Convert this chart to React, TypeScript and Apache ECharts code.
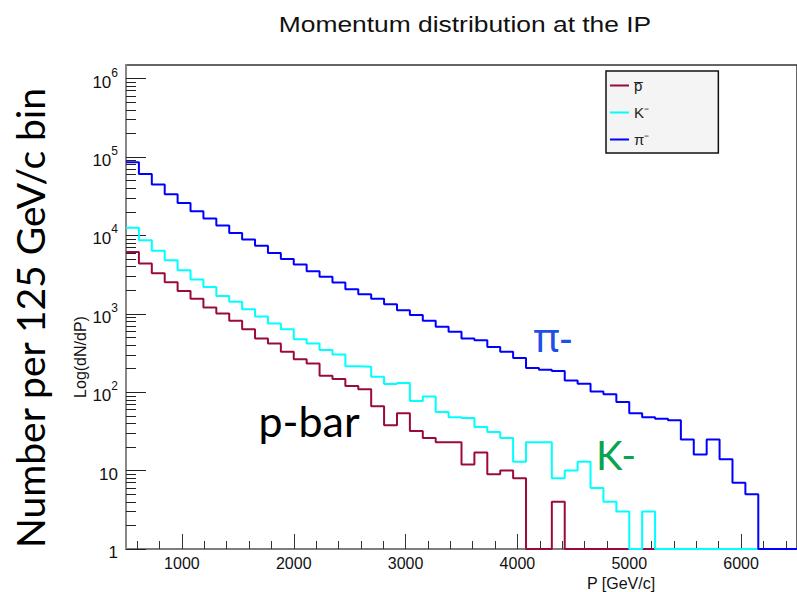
import React, { useEffect, useRef } from "react";
import * as echarts from "echarts";

// ---- data (counts per bin, 52 bins from 500 to 6500 GeV/c) ----
const X_MIN = 500;
const X_MAX = 6500;
const BIN_COUNT = 52;
const Y_MIN = 1;
const Y_MAX = 1.49e6;

const pbarCounts = [
  6160, 4370, 3300, 2530, 1960, 1550, 1205, 1010, 813, 637, 485, 419, 327, 264, 233, 162,
  147, 120, 109, 66, 38, 54, 32, 26, 23, 23, 12, 17, 9, 10, 8, 0, 0, 4, 0, 0, 0, 0, 0, 0,
  0, 0, 0, 0, 0, 0, 0, 0, 0, 0, 0, 0,
];
const kMinusCounts = [
  12470, 8690, 6350, 4830, 3600, 2740, 2190, 1680, 1420, 1146, 925, 754, 637, 475, 419, 344,
  303, 215, 211, 157, 127, 131, 77, 88, 56, 48, 47, 36, 31, 26, 13, 23, 23, 8, 10, 13, 6, 4,
  3, 0, 3, 0, 0, 0, 0, 0, 0, 0, 0, 0, 0, 0,
];
const piMinusCounts = [
  85700, 60800, 44600, 33500, 25900, 20300, 16400, 13400, 10700, 8870, 7350, 5980, 5010, 4250,
  3500, 2960, 2510, 2060, 1770, 1550, 1327, 1113, 962, 813, 682, 589, 485, 461, 376, 327, 272,
  203, 193, 186, 141, 128, 102, 94, 75, 54, 48, 46, 44, 25, 16, 25, 14, 7, 5, 0, 0, 0,
];

const seriesNames = ["p\u0305", "K\u207B", "\u03C0\u207B"];
const seriesColors = ["#9b0a3c", "#00ffff", "#0000ff"];

const xMajorTicks = [1000, 2000, 3000, 4000, 5000, 6000];
const xMinorTicks = [
  600, 800, 1200, 1400, 1600, 1800, 2200, 2400, 2600, 2800, 3200, 3400, 3600, 3800, 4200, 4400,
  4600, 4800, 5200, 5400, 5600, 5800, 6200, 6400,
];
const yDecades = [1, 10, 100, 1000, 10000, 100000, 1000000];
const yMinorMultipliers = [2, 3, 4, 5, 6, 7, 8, 9];

function histData(counts: number[]) {
  const w = (X_MAX - X_MIN) / BIN_COUNT;
  const pts: [number, number][] = counts.map((v, k) => [X_MIN + k * w, Math.max(v, Y_MIN)]);
  pts.push([X_MAX, Math.max(counts[counts.length - 1], Y_MIN)]);
  return pts;
}

export default function App() {
  const ref = useRef<HTMLDivElement>(null);

  useEffect(() => {
    if (!ref.current) return;
    const chart = echarts.init(ref.current, null, { renderer: "svg" });

    const yMinor: number[] = [];
    yDecades.forEach((d) =>
      yMinorMultipliers.forEach((m) => {
        if (d * m < Y_MAX) yMinor.push(d * m);
      })
    );

    const allCounts = [pbarCounts, kMinusCounts, piMinusCounts];
    const base = "'Liberation Sans', Arial, sans-serif";

    chart.setOption({
      animation: false,
      grid: {
        left: 126,
        top: 65,
        width: 674,
        height: 484,
        show: true,
        borderColor: "#333",
        borderWidth: 1.5,
        backgroundColor: "#fff",
      },
      legend: {
        left: 606,
        top: 71,
        orient: "vertical",
        padding: [7, 69, 6, 4],
        itemGap: 12,
        itemWidth: 19,
        itemHeight: 2,
        icon: "rect",
        data: seriesNames,
        backgroundColor: "#f4f4f4",
        borderColor: "#111",
        borderWidth: 1.5,
        textStyle: { fontSize: 15, fontFamily: base, color: "#222" },
      },
      xAxis: [
        {
          type: "value",
          min: X_MIN,
          max: X_MAX,
          splitLine: { show: false },
          axisLine: { show: true, lineStyle: { color: "#888", width: 1.5 } },
          axisTick: { show: true, inside: true, length: 15, customValues: xMajorTicks, lineStyle: { color: "#333" } },
          axisLabel: {
            customValues: xMajorTicks,
            formatter: (v: number) => String(v),
            fontSize: 16,
            fontFamily: base,
            color: "#111",
            margin: 6,
          },
        },
        {
          type: "value",
          min: X_MIN,
          max: X_MAX,
          position: "bottom",
          splitLine: { show: false },
          axisLine: { show: false },
          axisTick: { show: true, inside: true, length: 8, customValues: xMinorTicks, lineStyle: { color: "#333" } },
          axisLabel: { show: false },
        },
      ],
      yAxis: [
        {
          type: "log",
          logBase: 10,
          min: Y_MIN,
          max: Y_MAX,
          position: "left",
          splitLine: { show: false },
          axisLine: { show: true, lineStyle: { color: "#888", width: 2 } },
          axisTick: { show: true, inside: true, length: 20, customValues: yDecades, lineStyle: { color: "#222" } },
          axisLabel: {
            customValues: yDecades,
            margin: 8,
            color: "#111",
            fontFamily: base,
            formatter: (v: number) => {
              const e = Math.round(Math.log10(v));
              if (e === 0) return "{b|1}";
              if (e === 1) return "{b|10}";
              return "{b|10}{s|" + e + "}";
            },
            rich: {
              b: { fontSize: 17, fontFamily: base, color: "#111", padding: [7, 0, 0, 0] },
              s: { fontSize: 12, fontFamily: base, color: "#111", verticalAlign: "top" },
            },
          },
        },
        {
          type: "log",
          logBase: 10,
          min: Y_MIN,
          max: Y_MAX,
          position: "left",
          splitLine: { show: false },
          axisLine: { show: false },
          axisTick: { show: true, inside: true, length: 10, customValues: yMinor, lineStyle: { color: "#222" } },
          axisLabel: { show: false },
        },
      ],
      series: allCounts.map((counts, i) => ({
        name: seriesNames[i],
        type: "line",
        step: "end",
        xAxisIndex: 0,
        yAxisIndex: 0,
        showSymbol: false,
        symbol: "none",
        color: seriesColors[i],
        lineStyle: { width: 2, color: seriesColors[i] },
        data: histData(counts),
        z: 3 + i,
      })),
      graphic: [
        {
          type: "text",
          x: 465,
          y: 24,
          style: {
            text: "Momentum distribution at the IP",
            fontSize: 22,
            fontFamily: base,
            fill: "#111",
            textAlign: "center",
            textVerticalAlign: "middle",
          },
          scaleX: 1.2,
        },
        {
          type: "text",
          x: 80,
          y: 357,
          rotation: Math.PI / 2,
          style: {
            text: "Log(dN/dP)",
            fontSize: 16,
            fontFamily: base,
            fill: "#111",
            textAlign: "center",
            textVerticalAlign: "middle",
          },
        },
        {
          type: "text",
          x: 621,
          y: 583,
          style: {
            text: "P [GeV/c]",
            fontSize: 16,
            fontFamily: base,
            fill: "#111",
            textAlign: "center",
            textVerticalAlign: "middle",
          },
        },
        {
          type: "text",
          x: 30,
          y: 318,
          rotation: Math.PI / 2,
          style: {
            text: "Number per 125 GeV/c bin",
            fontSize: 39,
            fontFamily: "Lato, 'Noto Sans', sans-serif",
            fill: "#000",
            textAlign: "center",
            textVerticalAlign: "middle",
          },
        },
        {
          type: "text",
          x: 309,
          y: 420,
          style: {
            text: "p-bar",
            fontSize: 43,
            fontFamily: "Lato, 'Noto Sans', sans-serif",
            fill: "#000",
            textAlign: "center",
            textVerticalAlign: "middle",
          },
        },
        {
          type: "text",
          x: 553,
          y: 336,
          style: {
            text: "\u03C0-",
            fontSize: 40,
            fontFamily: "'Noto Sans', Lato, sans-serif",
            fill: "#1f4fe6",
            textAlign: "center",
            textVerticalAlign: "middle",
          },
        },
        {
          type: "text",
          x: 616,
          y: 455,
          style: {
            text: "K-",
            fontSize: 40,
            fontFamily: "Lato, 'Noto Sans', sans-serif",
            fill: "#0aa44e",
            textAlign: "center",
            textVerticalAlign: "middle",
          },
        },
      ],
    });

    return () => chart.dispose();
  }, []);

  return (
    <div
      ref={ref}
      style={{ position: "absolute", left: 0, top: 0, width: 797, height: 592, background: "#fff" }}
    />
  );
}
